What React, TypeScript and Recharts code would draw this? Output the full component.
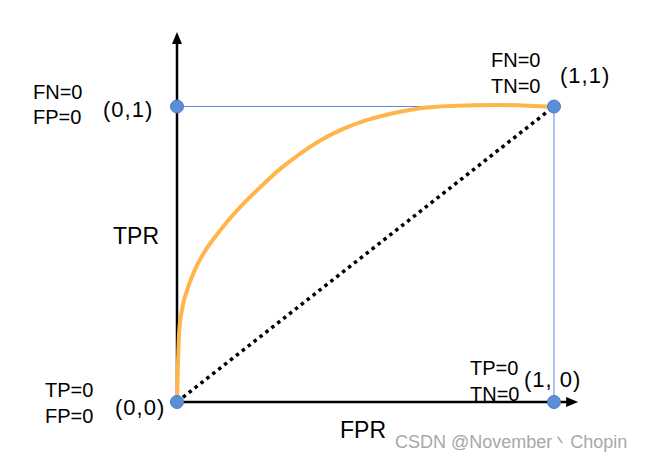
import React from "react";
import {
  ComposedChart,
  Line,
  XAxis,
  YAxis,
  ReferenceLine,
  ReferenceDot,
  Scatter,
} from "recharts";

// ROC curve (FPR, TPR)
const rocFpr = [0, 0.002, 0.006, 0.013, 0.027, 0.044, 0.071, 0.102, 0.137, 0.177, 0.22, 0.273, 0.326, 0.379, 0.432, 0.485, 0.538, 0.592, 0.645, 0.724, 0.857, 1.0];
const rocTpr = [0, 0.1, 0.244, 0.311, 0.379, 0.437, 0.504, 0.56, 0.616, 0.672, 0.726, 0.788, 0.84, 0.884, 0.919, 0.946, 0.966, 0.982, 0.994, 1.002, 1.005, 0.998];

// corner points
const cornerX = [0, 0, 1, 1];
const cornerY = [0, 1, 1, 0];

// axis arrow tips (data units)
const xArrowEnd = 1.064;
const yArrowEnd = 1.252;

const rocData = rocFpr.map((x, i) => ({ x, y: rocTpr[i] }));
const cornerData = cornerX.map((x, i) => ({ x, y: cornerY[i] }));

const W = 649;
const H = 462;

const dotShape = (props: any) => (
  <circle cx={props.cx} cy={props.cy} r={6.5} fill="#5B8ED8" stroke="#4A7AC6" strokeWidth={1} />
);

const upArrow = (props: any) => {
  const { cx, cy } = props;
  return <polygon points={`${cx},${cy} ${cx - 5},${cy + 12} ${cx + 5},${cy + 12}`} fill="#000" />;
};
const rightArrow = (props: any) => {
  const { cx, cy } = props;
  return <polygon points={`${cx},${cy} ${cx - 12},${cy - 5} ${cx - 12},${cy + 5}`} fill="#000" />;
};

const font = "'Liberation Sans', Arial, sans-serif";

export default function App() {
  return (
    <div style={{ position: "absolute", left: 0, top: 0, width: W, height: H, background: "#fff" }}>
      <ComposedChart
        width={W}
        height={H}
        margin={{ left: 177, right: 57.3, top: 17.85, bottom: 60 }}
        data={rocData}
      >
        <XAxis type="number" dataKey="x" domain={[0, 1.1]} hide />
        <YAxis type="number" dataKey="y" domain={[0, 1.3]} hide />
        {/* thin guide lines */}
        <ReferenceLine segment={[{ x: 0, y: 1 }, { x: 1, y: 1 }]} stroke="#5A8AD4" strokeWidth={1} />
        <ReferenceLine segment={[{ x: 1, y: 1 }, { x: 1, y: 0 }]} stroke="#5A8AD4" strokeWidth={1} />
        {/* axes */}
        <ReferenceLine segment={[{ x: 0, y: 0 }, { x: xArrowEnd - 0.02, y: 0 }]} stroke="#000" strokeWidth={2.5} />
        <ReferenceLine segment={[{ x: 0, y: 0 }, { x: 0, y: yArrowEnd - 0.03 }]} stroke="#000" strokeWidth={2.5} />
        <ReferenceDot x={xArrowEnd} y={0} shape={rightArrow} />
        <ReferenceDot x={0} y={yArrowEnd} shape={upArrow} />
        {/* random classifier diagonal */}
        <ReferenceLine
          segment={[{ x: 0, y: 0 }, { x: 1, y: 1 }]}
          stroke="#000"
          strokeWidth={3.5}
          strokeDasharray="3.5 4"
        />
        <Line
          type="monotone"
          dataKey="y"
          data={rocData}
          stroke="#FFB54C"
          strokeWidth={4}
          dot={false}
          isAnimationActive={false}
        />
        <Scatter data={cornerData} dataKey="y" shape={dotShape} isAnimationActive={false} />
      </ComposedChart>
      <svg
        width={W}
        height={H}
        style={{ position: "absolute", left: 0, top: 0, pointerEvents: "none" }}
        fontFamily={font}
      >
        <g fontSize={20} fill="#000">
          <text x={33} y={99}>FN=0</text>
          <text x={33} y={124}>FP=0</text>
          <text x={45} y={397}>TP=0</text>
          <text x={45} y={423}>FP=0</text>
          <text x={491} y={67}>FN=0</text>
          <text x={491} y={93}>TN=0</text>
          <text x={470} y={375}>TP=0</text>
          <text x={470} y={401}>TN=0</text>
        </g>
        <g fontSize={22} fill="#000" letterSpacing={1}>
          <text x={103} y={117}>(0,1)</text>
          <text x={115} y={415}>(0,0)</text>
          <text x={560} y={83}>(1,1)</text>
          <text x={524} y={387}>(1, 0)</text>
        </g>
        <text x={113} y={244} fontSize={23} fill="#000">TPR</text>
        <text x={340} y={438} fontSize={23} fill="#000">FPR</text>
        <text x={395} y={448} fontSize={18} fill="#a8a8a8">CSDN @November丶Chopin</text>
      </svg>
    </div>
  );
}
